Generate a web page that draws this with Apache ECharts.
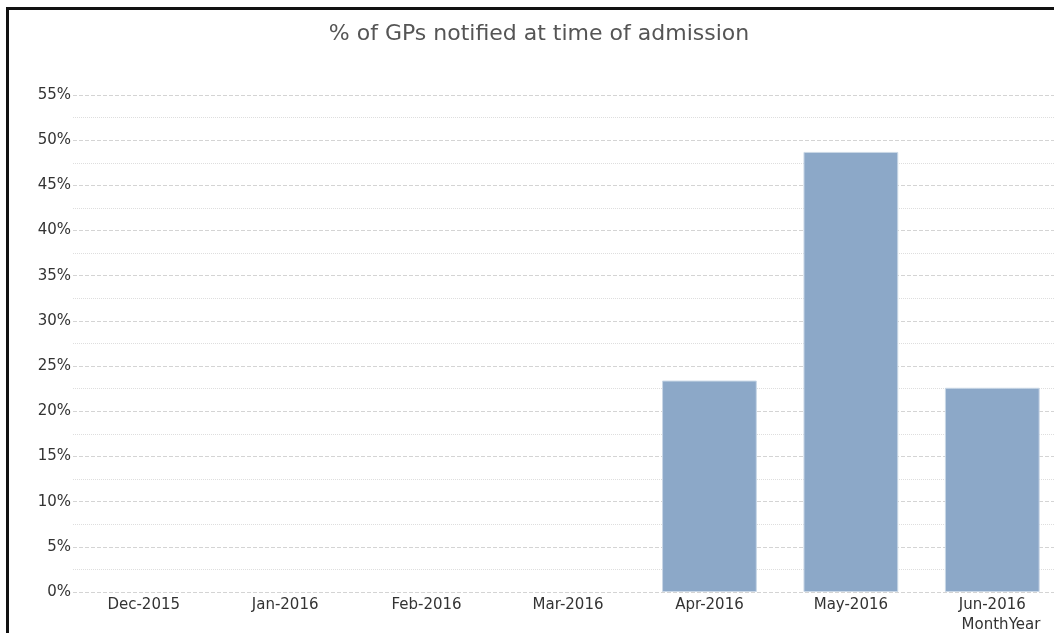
<!DOCTYPE html>
<html>
<head>
<meta charset="utf-8">
<script src="https://cdn.jsdelivr.net/npm/echarts@6/dist/echarts.min.js"></script>
<style>
  html, body { margin: 0; padding: 0; width: 1054px; height: 633px; overflow: hidden; background: #fff; }
  #chart { position: absolute; left: 0; top: 0; width: 1054px; height: 633px; }
  #frame { position: absolute; left: 6px; top: 7px; width: 2000px; height: 2000px; border: 3px solid #111; pointer-events: none; }
</style>
</head>
<body>
<div id="chart"></div>
<div id="frame"></div>
<script>
const categories = ['Dec-2015', 'Jan-2016', 'Feb-2016', 'Mar-2016', 'Apr-2016', 'May-2016', 'Jun-2016'];
const values = [null, null, null, null, 23.4, 48.7, 22.6];
const titleText = '% of GPs notified at time of admission';
const axisName = 'MonthYear';

const chart = echarts.init(document.getElementById('chart'), null, { renderer: 'canvas' });
chart.setOption({
  animation: false,
  backgroundColor: '#fff',
  title: {
    text: titleText,
    left: 534,
    textAlign: 'center',
    top: 18,
    textStyle: { fontFamily: 'DejaVu Sans', fontSize: 22, fontWeight: 'normal', color: '#555' }
  },
  grid: { left: 73, top: 95, right: -9, bottom: 41, containLabel: false, outerBoundsMode: 'none' },
  xAxis: {
    type: 'category',
    data: categories,
    axisLine: { show: false },
    axisTick: { show: false },
    splitLine: { show: false },
    axisLabel: { margin: 6, color: '#333', fontFamily: 'DejaVu Sans', fontSize: 15, interval: 0 },
    name: axisName,
    nameLocation: 'end',
    nameGap: -62,
    nameTextStyle: { align: 'center', verticalAlign: 'top', padding: [26, 0, 0, 0], color: '#333', fontFamily: 'DejaVu Sans', fontSize: 15 }
  },
  yAxis: {
    type: 'value',
    min: 0,
    max: 55,
    interval: 5,
    axisLine: { show: false },
    axisTick: { show: false },
    axisLabel: { formatter: '{value}%', margin: 2, color: '#333', fontFamily: 'DejaVu Sans', fontSize: 15 },
    splitLine: { show: true, lineStyle: { color: '#d4d4d4', width: 1, type: [4, 2] } },
    minorTick: { show: false, splitNumber: 2 },
    minorSplitLine: { show: true, lineStyle: { color: '#dedede', width: 1, type: [1, 1] } }
  },
  series: [{
    type: 'bar',
    data: values,
    barCategoryGap: '33%',
    itemStyle: { color: '#8CA8C8', borderColor: '#c9d7e6', borderWidth: 1 }
  }]
});
</script>
</body>
</html>
